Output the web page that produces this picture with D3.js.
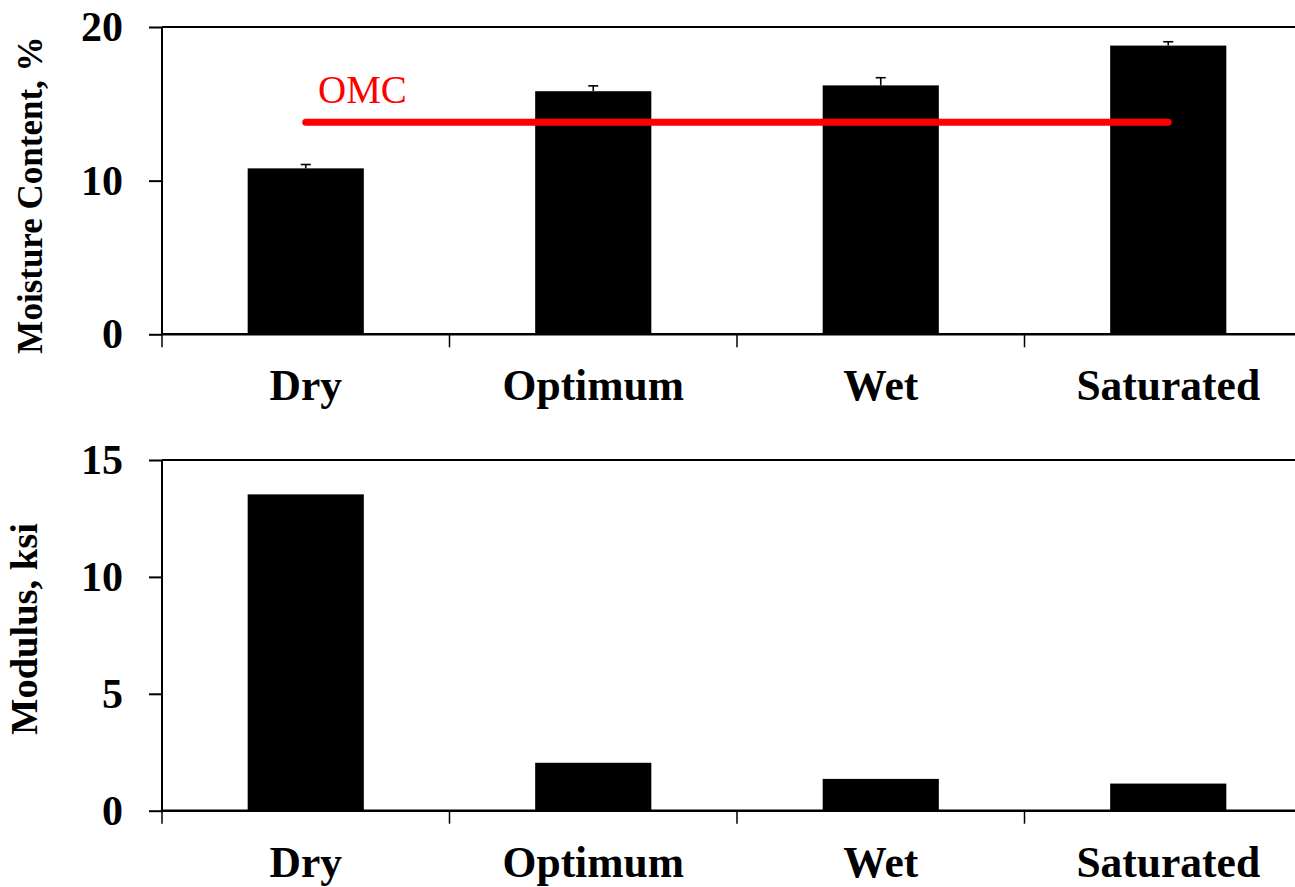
<!DOCTYPE html>
<html>
<head>
<meta charset="utf-8">
<script src="https://cdn.jsdelivr.net/npm/d3@7"></script>
<style>
  body { margin: 0; background: #fff; }
  svg { display: block; font-family: "Liberation Serif", "Times New Roman", serif; }
</style>
</head>
<body>
<script>
// categories and values
var categories = ["Dry", "Optimum", "Wet", "Saturated"];
var moisture = [10.8, 15.82, 16.2, 18.79];
var moistureErr = [0.25, 0.35, 0.5, 0.25];
var omc = 13.8;
var modulus = [13.53, 2.05, 1.36, 1.16];
var moistureTicks = [0, 10, 20];
var modulusTicks = [0, 5, 10, 15];

var W = 1295, H = 887;

// plot area left edge, and band step (the plot runs past the right edge)
var LEFT = 162;
var STEP = 287.5;

var svg = d3.select("body").append("svg")
  .attr("width", W)
  .attr("height", H);

// x scale shared by both panels
var xScale = d3.scaleBand()
  .domain(categories)
  .range([LEFT, LEFT + STEP * categories.length])
  .paddingInner(0.596)
  .paddingOuter(0.298);

function panel(opt) {
  var g = svg.append("g");
  var yScale = d3.scaleLinear().domain(opt.domain).range([opt.bottom, opt.top]);

  // bars
  g.selectAll("rect.bar")
    .data(opt.values)
    .enter()
    .append("rect")
    .attr("class", "bar")
    .attr("x", function (d, i) { return xScale(categories[i]); })
    .attr("width", xScale.bandwidth())
    .attr("y", function (d) { return yScale(d); })
    .attr("height", function (d) { return yScale(0) - yScale(d); })
    .attr("fill", "#000");

  // upper error bars only
  if (opt.errors) {
    var eb = g.selectAll("g.err")
      .data(opt.values)
      .enter()
      .append("g")
      .attr("class", "err")
      .attr("stroke", "#000")
      .attr("stroke-width", 1.6);
    eb.append("line")
      .attr("x1", function (d, i) { return xScale(categories[i]) + xScale.bandwidth() / 2; })
      .attr("x2", function (d, i) { return xScale(categories[i]) + xScale.bandwidth() / 2; })
      .attr("y1", function (d) { return yScale(d); })
      .attr("y2", function (d, i) { return yScale(d + opt.errors[i]); });
    eb.append("line")
      .attr("x1", function (d, i) { return xScale(categories[i]) + xScale.bandwidth() / 2 - 5; })
      .attr("x2", function (d, i) { return xScale(categories[i]) + xScale.bandwidth() / 2 + 5; })
      .attr("y1", function (d, i) { return yScale(d + opt.errors[i]); })
      .attr("y2", function (d, i) { return yScale(d + opt.errors[i]); });
  }

  // y axis
  var yAxis = d3.axisLeft(yScale)
    .tickValues(opt.ticks)
    .tickSize(13)
    .tickPadding(26)
    .tickSizeOuter(0)
    .tickFormat(d3.format("d"));
  var ya = g.append("g")
    .attr("transform", "translate(" + LEFT + ",0)")
    .call(yAxis);
  ya.select(".domain").remove();
  ya.selectAll("line").attr("stroke", "#000").attr("stroke-width", 2);
  ya.selectAll("text")
    .attr("fill", "#000")
    .style("font-family", "Liberation Serif")
    .style("font-weight", "bold")
    .style("font-size", "42px");

  // frame lines: left axis, top border
  g.append("line")
    .attr("x1", LEFT).attr("x2", LEFT)
    .attr("y1", opt.top).attr("y2", opt.bottom)
    .attr("stroke", "#000").attr("stroke-width", 2);
  g.append("line")
    .attr("x1", LEFT).attr("x2", W)
    .attr("y1", opt.top).attr("y2", opt.top)
    .attr("stroke", "#000").attr("stroke-width", 2);

  // x axis with ticks at band boundaries
  var xa = g.append("g")
    .attr("transform", "translate(0," + opt.bottom + ")");
  xa.append("line")
    .attr("x1", LEFT).attr("x2", W)
    .attr("stroke", "#000").attr("stroke-width", 2.5);
  xa.selectAll("line.tick")
    .data(categories)
    .enter()
    .append("line")
    .attr("class", "tick")
    .attr("x1", function (d) { return xScale(d) - xScale.step() * xScale.paddingOuter(); })
    .attr("x2", function (d) { return xScale(d) - xScale.step() * xScale.paddingOuter(); })
    .attr("y1", 0).attr("y2", 13)
    .attr("stroke", "#000").attr("stroke-width", 1.5);
  xa.selectAll("text")
    .data(categories)
    .enter()
    .append("text")
    .attr("x", function (d) { return xScale(d) + xScale.bandwidth() / 2; })
    .attr("y", 66)
    .attr("text-anchor", "middle")
    .style("font-weight", "bold")
    .style("font-size", "43.5px")
    .text(function (d) { return d; });

  // y title
  g.append("text")
    .attr("transform", "translate(" + opt.titleX + "," + opt.titleY + ") rotate(-90)")
    .attr("text-anchor", "middle")
    .style("font-weight", "bold")
    .style("font-size", opt.titleSize + "px")
    .text(opt.title);

  return yScale;
}

var yTop = panel({
  domain: [0, 20], top: 27, bottom: 334.3,
  values: moisture, errors: moistureErr, ticks: moistureTicks,
  title: "Moisture Content, %", titleX: 41.5, titleY: 195, titleSize: 35
});

// OMC reference line
var first = categories[0], last = categories[categories.length - 1];
svg.append("line")
  .attr("x1", xScale(first) + xScale.bandwidth() / 2)
  .attr("x2", xScale(last) + xScale.bandwidth() / 2)
  .attr("y1", yTop(omc))
  .attr("y2", yTop(omc))
  .attr("stroke", "#ff0000")
  .attr("stroke-width", 7)
  .attr("stroke-linecap", "round");
svg.append("text")
  .attr("x", 318)
  .attr("y", 103)
  .attr("fill", "#ff0000")
  .style("font-size", "39px")
  .text("OMC");

panel({
  domain: [0, 15], top: 460, bottom: 810.7,
  values: modulus, errors: null, ticks: modulusTicks,
  title: "Modulus, ksi", titleX: 37, titleY: 629, titleSize: 38.5
});
</script>
</body>
</html>
